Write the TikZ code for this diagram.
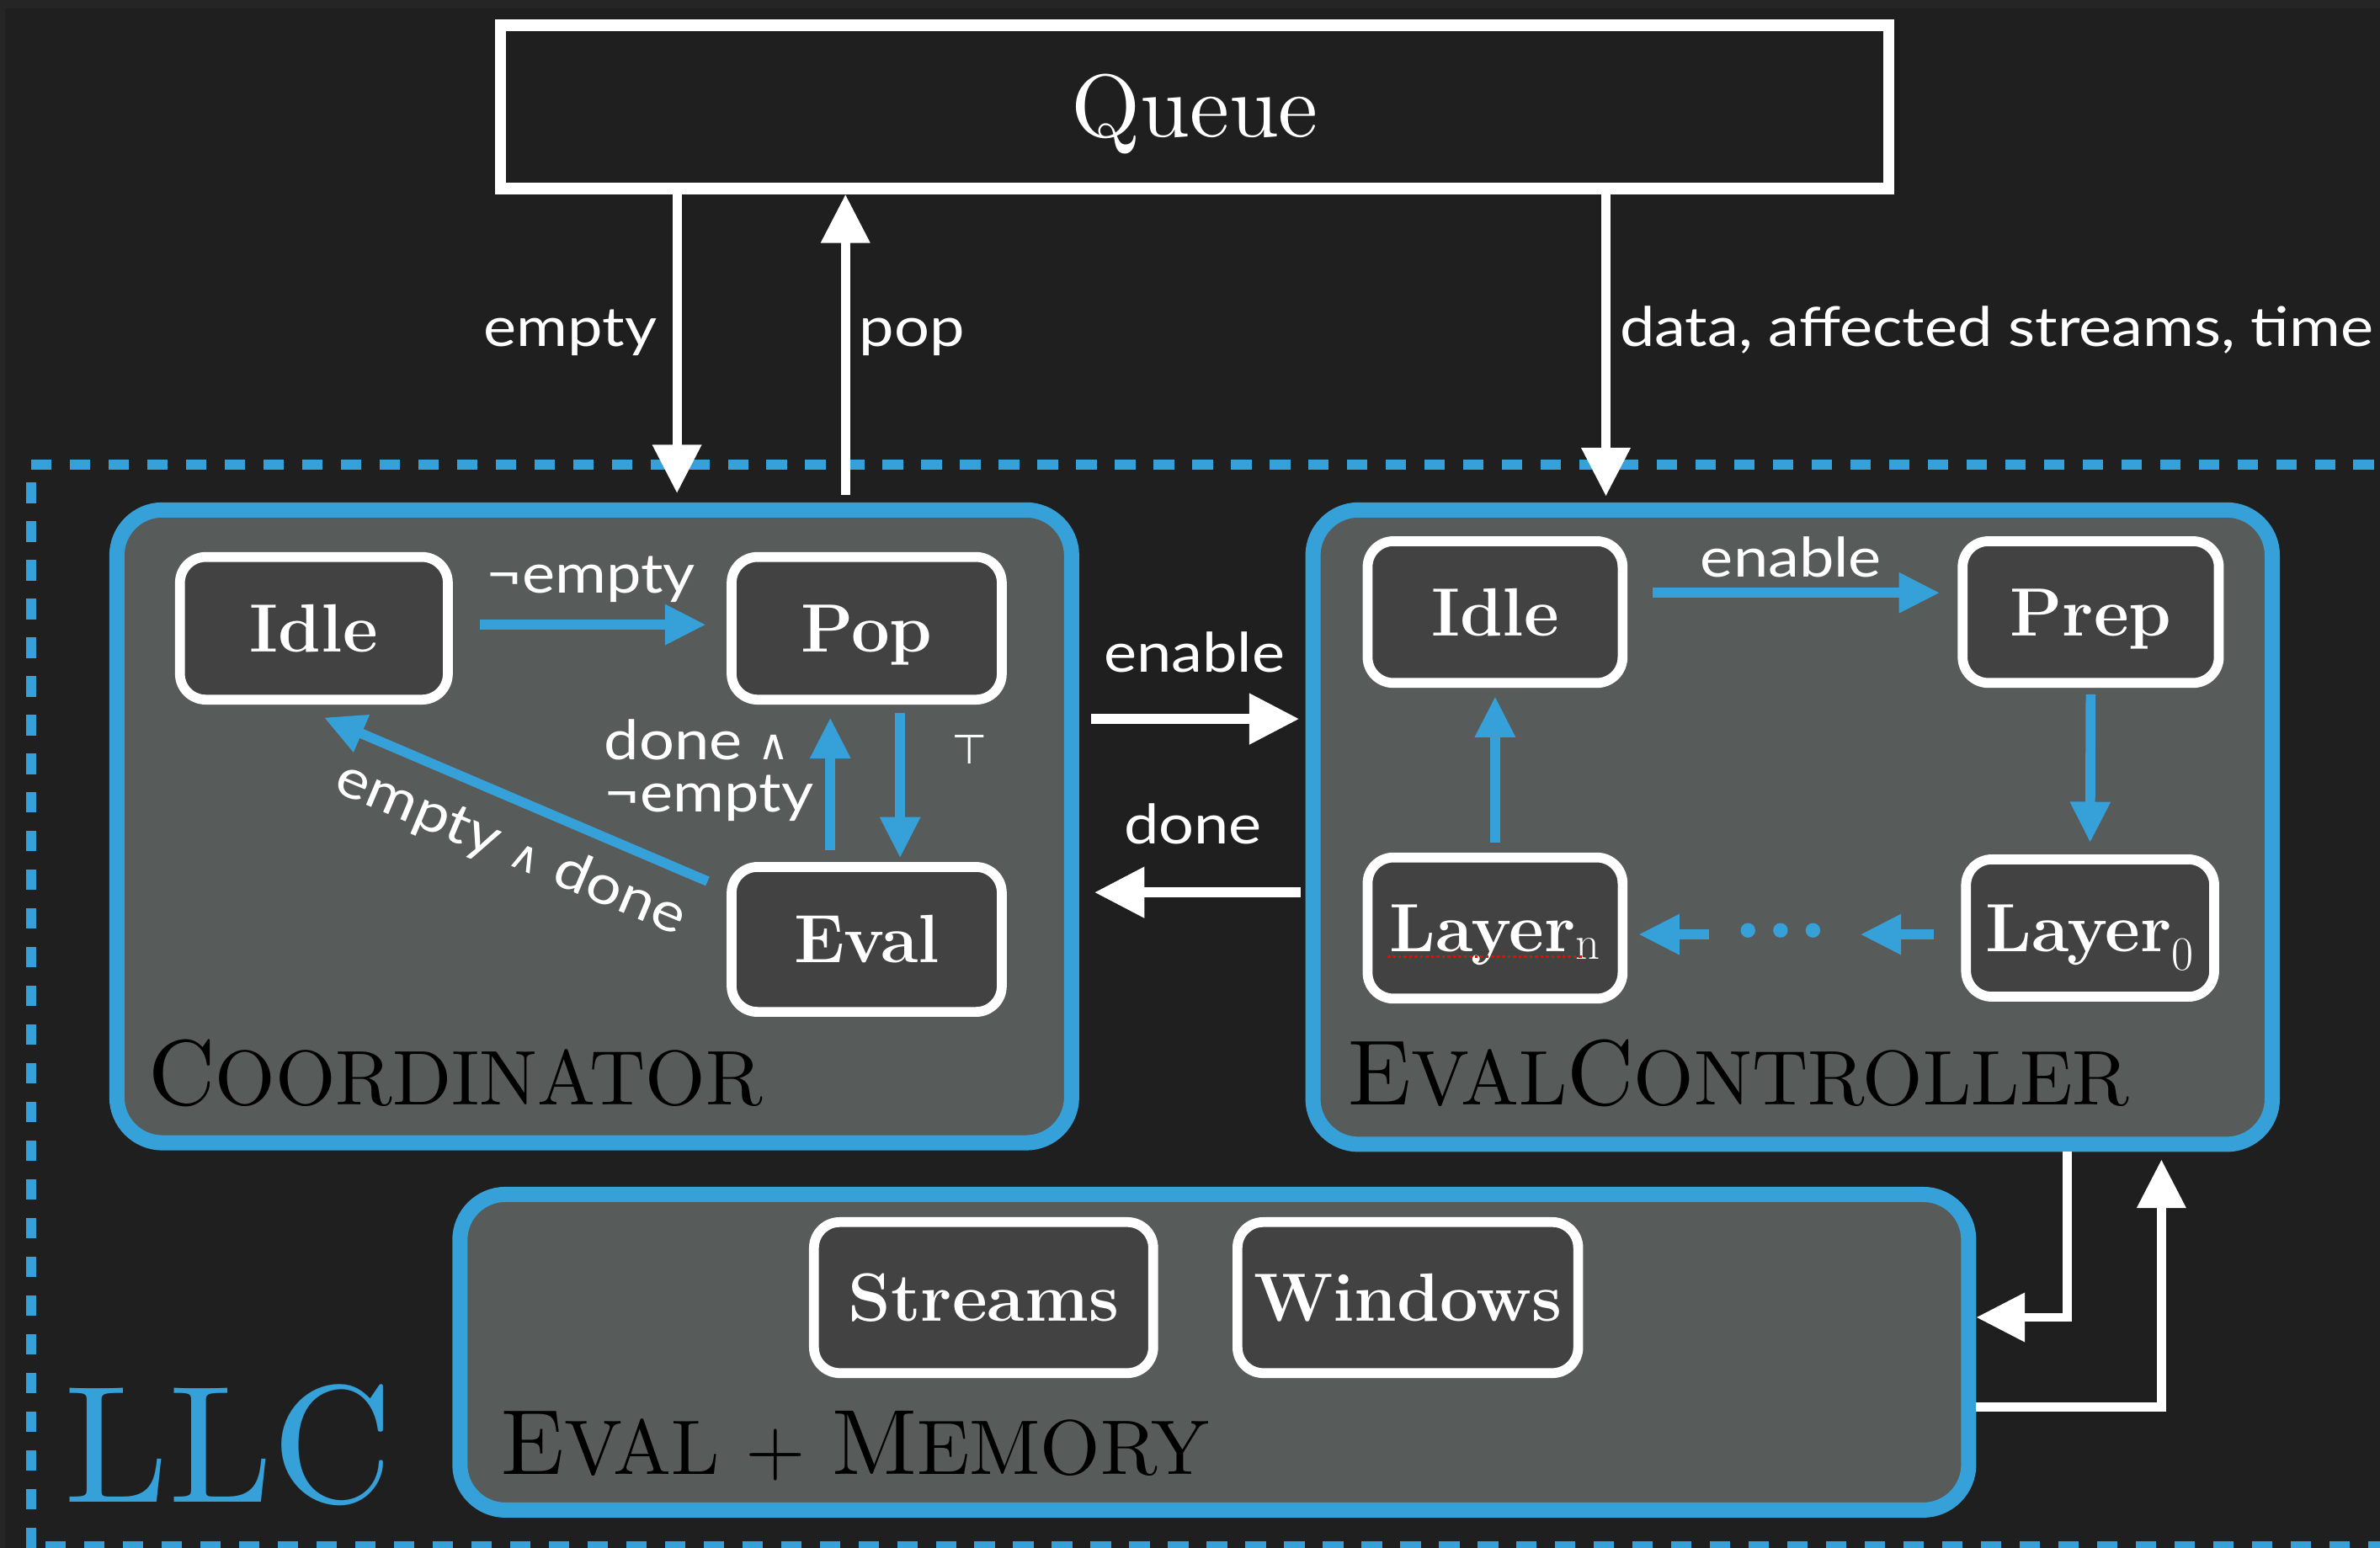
\documentclass[tikz,border=0pt]{standalone}
\usepackage{fontspec}
\newfontfamily\lab[FakeStretch=1.14]{Lato}
\newfontfamily\symf{DejaVu Sans}
\newfontfamily\lmten{lmroman10-regular.otf}
\usetikzlibrary{arrows.meta}
\definecolor{bgc}{HTML}{1F1F1F}
\definecolor{bgtop}{HTML}{252525}
\definecolor{llcblue}{HTML}{36A1D9}
\definecolor{boxgray}{HTML}{575B5A}
\definecolor{stategray}{HTML}{424242}
\newcommand\capA[1]{{\fontsize{61}{61}\selectfont #1}}
\newcommand\capB[1]{{\fontsize{51}{51}\selectfont #1}}
\begin{document}
\begin{tikzpicture}[x=1pt,y=-1pt,
  bigbox/.style={draw=llcblue, line width=10pt, fill=boxgray, rounded corners=30pt, inner sep=0pt},
  statebox/.style={draw=white, line width=6.5pt, fill=stategray, rounded corners=17pt, inner sep=0pt,
     text=white, font=\fontsize{45}{45}\selectfont\bfseries, text height=31pt, text depth=0pt},
  qbox/.style={draw=white, line width=7.5pt, fill=bgc, inner sep=0pt, text=white,
     font=\lmten\fontsize{58.6}{58.6}\selectfont, text height=40pt, text depth=0pt},
  lbl/.style={text=white, font=\lab\fontsize{36}{36}\selectfont, inner sep=0pt},
  title/.style={text=black, inner sep=0pt, anchor=base west, font=\lmten},
  llcdash/.style={draw=llcblue, line width=6.5pt, dash pattern=on 13.5pt off 12pt},
  barrow/.style={draw=llcblue, line width=6.5pt, -{Triangle[length=27pt,width=25pt]}},
  warrow/.style={draw=white, line width=6pt, -{Triangle[length=32pt,width=31pt]}},
  wbig/.style={draw=white, line width=6.8pt, -{Triangle[length=33pt,width=32pt]}}
]
\useasboundingbox (0,0) rectangle (1568,1020);
\fill[bgtop] (0,0) rectangle (1568,1020);
\fill[bgc] (3.5,5.5) rectangle (1568,1020);

% LLC dashed frame
\draw[llcdash] (20.5,306) -- (1575,306);
\draw[llcdash] (20.5,318) -- (20.5,1022);
\draw[llcdash] (30,1019) -- (1575,1019);

% Queue
\node[qbox, minimum width=914.5pt, minimum height=107.8pt] (queue) at (787,70.4) {Queue};

% big boxes
\node[bigbox, minimum width=629pt, minimum height=417pt] (coord) at (391.5,544.5) {};
\node[bigbox, minimum width=632pt, minimum height=418pt] (ectrl) at (1181,545) {};
\node[bigbox, minimum width=994pt, minimum height=208pt] (mem) at (800,891) {};

% coordinator states
\node[statebox, minimum width=176.5pt, minimum height=94pt] (cIdle) at (206.8,414) {Idle};
\node[statebox, minimum width=178pt, minimum height=94pt] (cPop) at (571,414) {Pop};
\node[statebox, minimum width=178pt, minimum height=95.5pt] (cEval) at (571,619) {Eval};

% eval controller states
\node[statebox, minimum width=168pt, minimum height=93.4pt] (eIdle) at (985,403.3) {Idle};
\node[statebox, minimum width=168.8pt, minimum height=93.4pt] (ePrep) at (1377.4,403.3) {Prep};
\node[statebox, minimum width=168pt, minimum height=93pt] (eLn) at (985,611.5) {Layer$_\mathrm{n}$};
\node[statebox, minimum width=163.5pt, minimum height=90.5pt] (eL0) at (1377,611.5) {Layer$_\mathrm{0}$};
\draw[red, line width=1.6pt, dash pattern=on 2pt off 1.6pt] ([shift={(-71,19)}]eLn.center) -- ([shift={(58,19)}]eLn.center);

% memory states
\node[statebox, minimum width=223.5pt, minimum height=99.5pt] (mStreams) at (648,855) {Streams};
\node[statebox, minimum width=224.5pt, minimum height=99.5pt] (mWindows) at (927.5,855) {Windows};

% titles
\node[title] (tcoord) at (97.6,728) {\capA{C}\capB{OORDINATOR}};
\node[title] (tectrl) at (888,728) {\capA{E}\capB{VAL}\capA{C}\capB{ONTROLLER}};
\node[title] (tmem) at (330,971.6) {\capA{E}\capB{VAL + }\capA{M}\capB{EMORY}};
\node[title, text=llcblue, font=\lmten\fontsize{110}{110}\selectfont] (tllc) at (42,990) {LLC};

% queue arrows
\coordinate (xe) at (446,0);
\coordinate (xp) at (557,0);
\coordinate (xd) at (1058,0);
\draw[warrow, shorten >=6pt] (queue.south -| xe) -- (coord.north -| xe);
\draw[warrow, shorten <=5pt] (coord.north -| xp) -- (queue.south -| xp);
\draw[warrow, shorten >=4pt] (queue.south -| xd) -- (ectrl.north -| xd);
\node[lbl, anchor=base east] (lempty) at (433,228) {empty};
\node[lbl, anchor=base west] (lpop) at (566,228) {pop};
\node[lbl, anchor=base west] (ldata) at (1067,228) {data, affected streams, time};

% coordinator transitions
\draw[barrow] ([shift={(18,-2.4)}]cIdle.east) -- ([shift={(-13.6,-2.4)}]cPop.west);
\draw[barrow] ([shift={(-24,-8)}]cEval.north) -- ([shift={(-24,8.5)}]cPop.south);
\draw[barrow] ([shift={(22,5.5)}]cPop.south) -- ([shift={(22,-2.6)}]cEval.north);
\draw[barrow] ([shift={(-12.6,-38.3)}]cEval.west) -- ([shift={(6.6,8.5)}]cIdle.south);
\node[lbl, anchor=base west] (lne) at (320,391) {¬empty};
\node[lbl, anchor=base west] (ld1) at (398,500.5) {done {\symf\fontsize{28}{28}\selectfont ∧}};
\node[lbl, anchor=base west] (ld2) at (398,535) {¬empty};
\node[lbl, font=\symf\fontsize{27}{27}\selectfont] (ltop) at (639,494) {⊤};
\node[lbl, rotate=-22.8] (led) at (336.5,559.5) {empty {\symf\fontsize{28}{28}\selectfont ∧} done};

% coordinator <-> eval controller
\coordinate (yen) at (0,473.7);
\coordinate (ydn) at (0,588);
\draw[wbig, shorten <=8pt, shorten >=4pt] (coord.east |- yen) -- (ectrl.west |- yen);
\draw[wbig, shorten <=3pt, shorten >=10pt] (ectrl.west |- ydn) -- (coord.east |- ydn);
\node[lbl, anchor=base] (len) at (787,443) {enable};
\node[lbl, anchor=base] (ldn) at (786,556) {done};

% eval controller transitions
\draw[barrow] ([shift={(16.6,-12.7)}]eIdle.east) -- ([shift={(-11.7,-12.7)}]ePrep.west);
\draw[barrow] ([shift={(0,4.3)}]ePrep.south) -- ([shift={(0,-7.7)}]eL0.north);
\draw[barrow] ([shift={(0,-6.7)}]eLn.north) -- ([shift={(0,5.5)}]eIdle.south);
\coordinate (d1) at (1225.5,615.7);
\coordinate (d2) at (1126,615.7);
\draw[barrow] ([shift={(-18,4.2)}]eL0.west) -- (d1);
\draw[barrow] (d2) -- ([shift={(7.2,4.2)}]eLn.east);
\fill[llcblue] (1151.6,613) circle (4.8pt) (1173,613) circle (4.8pt) (1194.4,613) circle (4.8pt);
\node[lbl, anchor=base] (len2) at (1180,380) {enable};

% eval controller <-> memory
\coordinate (r1) at (1362,868);
\coordinate (r2) at (1424,927);
\draw[warrow] (ectrl.south -| r1) -- (r1) -- (mem.east |- r1);
\draw[warrow, shorten >=5pt] (mem.east |- r2) -- (r2) -- (ectrl.south -| r2);
\end{tikzpicture}
\end{document}
